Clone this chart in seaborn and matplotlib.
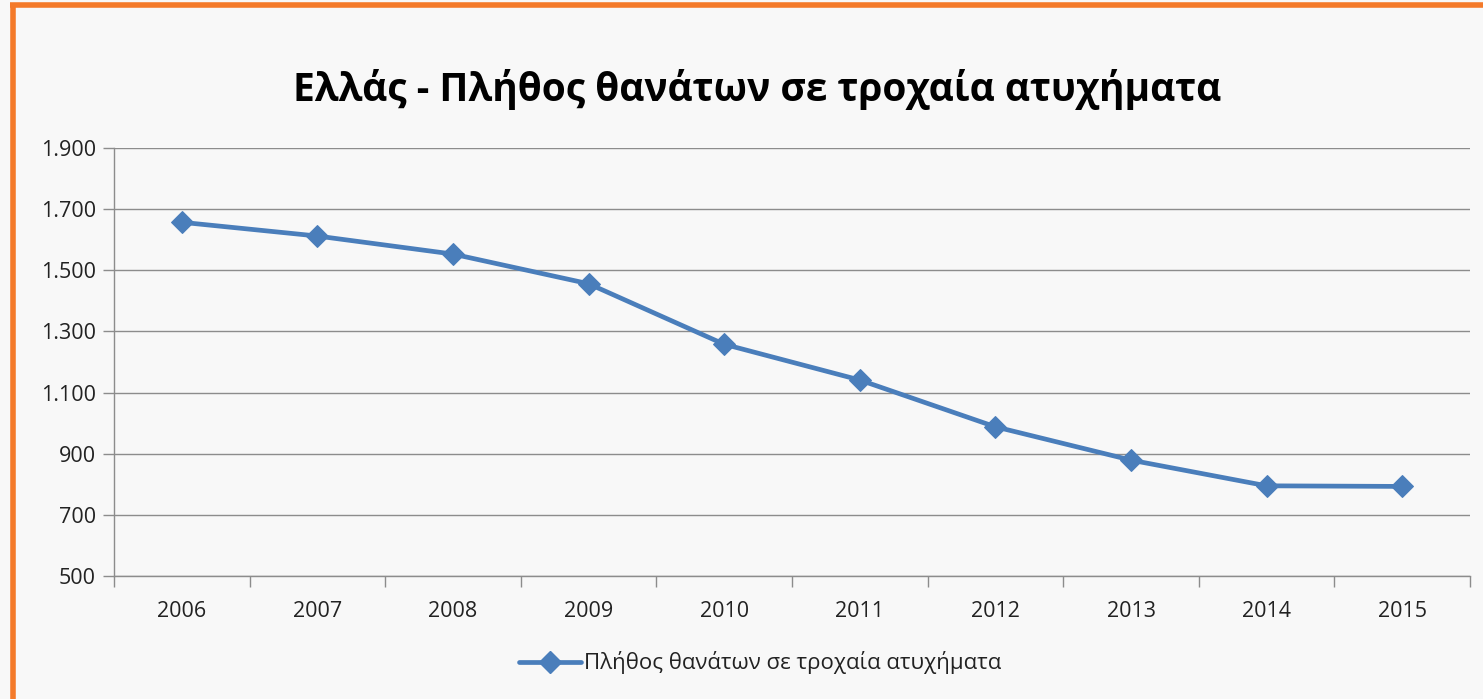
import matplotlib
matplotlib.use("Agg")
import matplotlib.pyplot as plt
import seaborn as sns
import pandas as pd
from matplotlib.ticker import FuncFormatter, FixedLocator
from matplotlib.lines import Line2D

years = ["2006", "2007", "2008", "2009", "2010", "2011", "2012", "2013", "2014", "2015"]
deaths = [1657, 1612, 1553, 1456, 1258, 1141, 988, 879, 795, 793]
series_name = "Πλήθος θανάτων σε τροχαία ατυχήματα"
title = "Ελλάς - Πλήθος θανάτων σε τροχαία ατυχήματα"
yticks = [500, 700, 900, 1100, 1300, 1500, 1700, 1900]

sns.set_theme(style="white")
plt.rcParams['font.family'] = ['Open Sans', 'DejaVu Sans']

bg = "#f8f8f8"
blue = "#4a7ebb"
grid = "#8c8c8c"

fig = plt.figure(figsize=(14.83, 6.99), dpi=100, facecolor=bg)
ax = fig.add_axes([114/1483, 1 - 576/699, (1470-114)/1483, (576-148)/699])
ax.set_facecolor(bg)

df = pd.DataFrame({"idx": range(len(years)), "deaths": deaths})
sns.lineplot(data=df, x="idx", y="deaths", ax=ax, color=blue, linewidth=3.4,
             marker="D", markersize=11, markeredgecolor=blue, legend=False)

ax.set_xlim(-0.5, len(years) - 0.5)
ax.set_ylim(500, 1900)
ax.set_yticks(yticks)
ax.yaxis.set_major_formatter(FuncFormatter(lambda v, p: f"{int(v):,}".replace(",", ".")))
ax.set_xticks(range(len(years)))
ax.set_xticklabels(years)
ax.xaxis.set_minor_locator(FixedLocator([i - 0.5 for i in range(len(years) + 1)]))
ax.tick_params(axis="x", which="major", length=0, pad=18, labelsize=15.5, labelcolor="#222222")
ax.tick_params(axis="x", which="minor", length=8, color=grid, width=1, direction="out")
ax.tick_params(axis="y", which="major", length=8, color=grid, width=1, direction="out",
               pad=5, labelsize=15.5, labelcolor="#222222")
ax.tick_params(axis="x", which="minor", bottom=True)
ax.tick_params(axis="y", left=True)
ax.grid(axis="y", color=grid, linewidth=1)
ax.set_axisbelow(True)
ax.set_xlabel("")
ax.set_ylabel("")
for s in ["top", "right"]:
    ax.spines[s].set_visible(False)
for s in ["left", "bottom"]:
    ax.spines[s].set_color(grid)
    ax.spines[s].set_linewidth(1)

fig.text(757/1483, 1 - 90/699, title, ha="center", va="center",
         fontsize=28, fontweight="bold", color="#000000")

handle = Line2D([], [], color=blue, linewidth=3.4, marker="D", markersize=11)
fig.legend([handle], [series_name], loc="center", bbox_to_anchor=(760/1483, 1 - 663/699),
           frameon=False, fontsize=16, handlelength=2.8, handletextpad=0.1, labelcolor="#222222")

# orange frame lines (top and left)
fig.add_artist(Line2D([12.5/1483, 12.5/1483], [0, 1 - 5/699], transform=fig.transFigure,
                      color="#f47a2a", linewidth=4, solid_capstyle="butt"))
fig.add_artist(Line2D([10/1483, 1], [1 - 5/699, 1 - 5/699], transform=fig.transFigure,
                      color="#f47a2a", linewidth=4, solid_capstyle="butt"))

fig.savefig("out.png", dpi=100, facecolor=bg)
